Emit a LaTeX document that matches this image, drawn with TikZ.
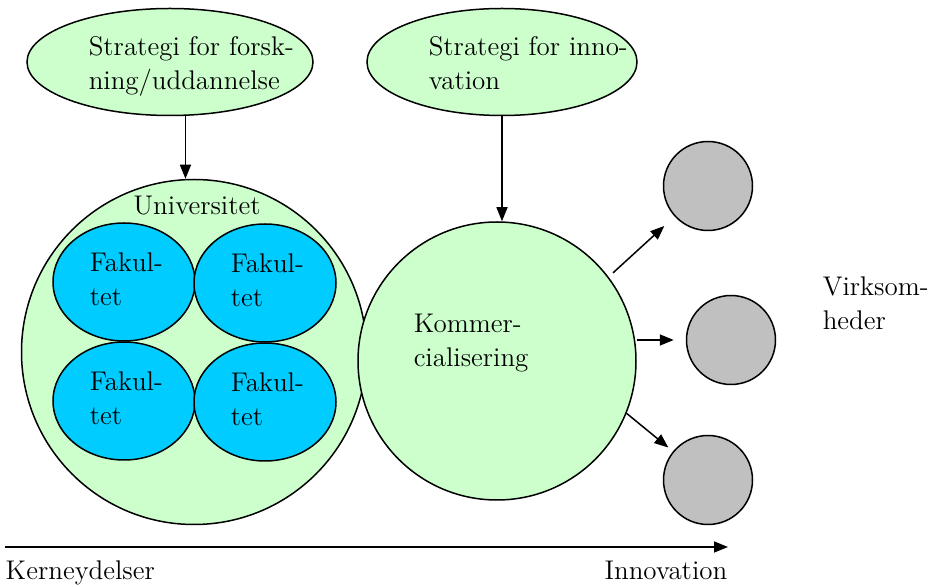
\documentclass[tikz,border=0pt]{standalone}
\usepackage{tikz}
\usetikzlibrary{shapes.geometric, positioning, arrows.meta}
\tikzset{>={Triangle[length=7pt,width=5.5pt]}}
\definecolor{lightgreen}{HTML}{CCFFCC}
\definecolor{fakblue}{HTML}{00CCFF}
\definecolor{firmgrey}{HTML}{C0C0C0}

\begin{document}
\begin{tikzpicture}[x=0.5pt,y=-0.5pt,line width=0.75pt,
		every node/.style={font=\fontsize{13.5}{17}\selectfont,inner sep=0pt},
		strat/.style={ellipse,draw,fill=lightgreen,minimum height=53.5pt},
		fak/.style={ellipse,draw,fill=fakblue,minimum width=71pt,minimum height=59pt},
		firm/.style={circle,draw,fill=firmgrey,minimum size=44.5pt},
		txt/.style={anchor=base west,align=left}]
			\useasboundingbox (0,0) rectangle (939,587);
			% strategier
			\node[strat,minimum width=143pt] (forsk) at (170,62) {};
			\node[strat,minimum width=135pt] (innov) at (502,62) {};
			\node[txt] (forsktxt) at (88,90) {Strategi for forsk-\\ning/uddannelse};
			\node[txt] (innovtxt) at (428,90) {Strategi for inno-\\vation};
			% universitet med fakulteter
			\node[circle,draw,fill=lightgreen,minimum size=172.5pt] (univ) at (194,352) {};
			\node[anchor=base] (univtxt) at (197,215) {Universitet};
			\node[fak] (fakA) at (124,282) {};
			\node[fak] (fakB) at (265,283) {};
			\node[fak] (fakC) at (124,401) {};
			\node[fak] (fakD) at (265,402) {};
			\node[txt] (fakAtxt) at ([shift={(-35,24)}]fakA) {Fakul-\\tet};
			\node[txt] (fakBtxt) at ([shift={(-35,24)}]fakB) {Fakul-\\tet};
			\node[txt] (fakCtxt) at ([shift={(-35,24)}]fakC) {Fakul-\\tet};
			\node[txt] (fakDtxt) at ([shift={(-35,24)}]fakD) {Fakul-\\tet};
			% kommercialisering
			\node[circle,draw,fill=lightgreen,minimum size=139pt] (komm) at (497,361) {};
			\node[txt] (kommtxt) at (413,367) {Kommer-\\cialisering};
			% virksomheder
			\node[firm] (firmA) at (708,186) {};
			\node[firm] (firmB) at (731,340) {};
			\node[firm] (firmC) at (708,480) {};
			\node[txt] (firmtxt) at (822,330) {Virksom-\\heder};
			% pile
			\draw[->] (forsk.-74.5) -- (forsk.-74.5 |- univ.north);
			\draw[->] (innov.south) -- (innov.south |- komm.north);
			\draw[->,shorten <=3pt,shorten >=7pt] (komm.37) -- (firmA);
			\draw[->,shorten >=6pt] (komm.east |- firmB) -- (firmB);
			\draw[->,shorten >=3pt] (komm.-22) -- (firmC);
			% akse
			\coordinate (ax0) at (5,547);
			\coordinate (ax1) at (728,547);
			\draw[->] (ax0) -- (ax1);
			\node[anchor=base west] (kerne) at (5,580) {Kerneydelser};
			\node[anchor=base east] (innovlbl) at (728,580) {Innovation};
		\end{tikzpicture}
\end{document}
